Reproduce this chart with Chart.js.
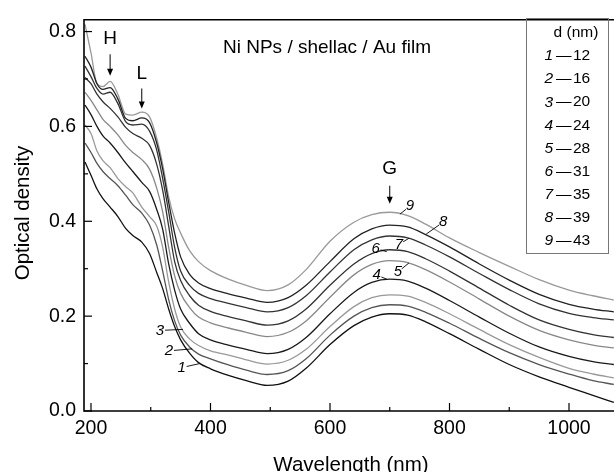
<!DOCTYPE html>
<html lang="en">
  <head>
    <meta charset="UTF-8" />
    <title>Optical density of Ni NPs / shellac / Au film</title>
    <script src="https://cdn.jsdelivr.net/npm/chart.js"></script>
    <style>
      html, body { margin: 0; padding: 0; background: #fff; }
      #wrap { width: 614px; height: 472px; }
    </style>
  </head>
  <body>
    <div id="wrap">
      <canvas id="odChart" width="614" height="472"></canvas>
    </div>

    <script>
      // wavelength grid (nm) shared by all spectra
      const wavelengths = [190, 200, 210, 220, 232, 245, 258, 270, 285, 298, 310, 320, 330, 340, 350, 365, 380, 400,
        430, 460, 495, 530, 560, 600, 640, 670, 700, 730, 760, 800, 850, 900, 950, 1000, 1040, 1075];

      // optical density of each curve
      const od1 = [0.525, 0.497, 0.468, 0.448, 0.430, 0.410, 0.385, 0.370, 0.356, 0.332, 0.292, 0.258, 0.215, 0.178, 0.150, 0.122, 0.102, 0.089,
        0.075, 0.064, 0.054, 0.063, 0.090, 0.140, 0.180, 0.198, 0.205, 0.202, 0.188, 0.163, 0.130, 0.098, 0.072, 0.050, 0.033, 0.018];
      const od2 = [0.565, 0.545, 0.522, 0.505, 0.490, 0.475, 0.455, 0.435, 0.417, 0.392, 0.350, 0.295, 0.235, 0.190, 0.160, 0.135, 0.120, 0.110,
        0.097, 0.086, 0.077, 0.085, 0.110, 0.160, 0.200, 0.218, 0.224, 0.221, 0.208, 0.185, 0.153, 0.123, 0.098, 0.078, 0.064, 0.056];
      const od3 = [0.603, 0.585, 0.548, 0.528, 0.513, 0.490, 0.473, 0.460, 0.430, 0.410, 0.390, 0.345, 0.272, 0.215, 0.177, 0.152, 0.138, 0.127,
        0.118, 0.108, 0.099, 0.107, 0.130, 0.178, 0.220, 0.239, 0.245, 0.242, 0.229, 0.205, 0.172, 0.140, 0.113, 0.090, 0.078, 0.070];
      const od4 = [0.645, 0.625, 0.600, 0.580, 0.565, 0.545, 0.523, 0.505, 0.482, 0.463, 0.425, 0.383, 0.310, 0.255, 0.215, 0.185, 0.163, 0.150,
        0.139, 0.130, 0.121, 0.130, 0.155, 0.205, 0.250, 0.271, 0.278, 0.274, 0.259, 0.233, 0.198, 0.164, 0.135, 0.115, 0.104, 0.098];
      const od5 = [0.672, 0.655, 0.635, 0.615, 0.600, 0.582, 0.560, 0.545, 0.530, 0.510, 0.470, 0.420, 0.345, 0.285, 0.248, 0.218, 0.198, 0.186,
        0.175, 0.166, 0.157, 0.166, 0.190, 0.240, 0.287, 0.309, 0.317, 0.313, 0.298, 0.272, 0.236, 0.200, 0.170, 0.150, 0.139, 0.133];
      const od6 = [0.703, 0.690, 0.668, 0.652, 0.638, 0.620, 0.598, 0.585, 0.575, 0.560, 0.520, 0.465, 0.390, 0.315, 0.275, 0.243, 0.223, 0.210,
        0.199, 0.190, 0.181, 0.190, 0.215, 0.265, 0.310, 0.332, 0.340, 0.336, 0.321, 0.295, 0.259, 0.223, 0.192, 0.172, 0.161, 0.155];
      const od7 = [0.727, 0.705, 0.680, 0.668, 0.672, 0.648, 0.610, 0.603, 0.605, 0.590, 0.550, 0.490, 0.420, 0.345, 0.295, 0.265, 0.248, 0.237,
        0.227, 0.218, 0.209, 0.218, 0.243, 0.293, 0.340, 0.361, 0.369, 0.365, 0.350, 0.325, 0.290, 0.256, 0.226, 0.206, 0.197, 0.192];
      const od8 = [0.748, 0.725, 0.690, 0.678, 0.682, 0.658, 0.617, 0.612, 0.618, 0.608, 0.565, 0.510, 0.440, 0.375, 0.325, 0.288, 0.270, 0.258,
        0.247, 0.238, 0.229, 0.239, 0.265, 0.315, 0.363, 0.384, 0.392, 0.388, 0.372, 0.346, 0.310, 0.276, 0.246, 0.225, 0.215, 0.209];
      const od9 = [0.815, 0.755, 0.690, 0.684, 0.695, 0.668, 0.626, 0.624, 0.630, 0.620, 0.575, 0.520, 0.452, 0.405, 0.375, 0.338, 0.315, 0.296,
        0.278, 0.265, 0.254, 0.266, 0.298, 0.358, 0.398, 0.414, 0.419, 0.412, 0.394, 0.365, 0.334, 0.305, 0.277, 0.255, 0.243, 0.234];

      const spectra = [od1, od2, od3, od4, od5, od6, od7, od8, od9];
      const curveNames = ["1", "2", "3", "4", "5", "6", "7", "8", "9"];
      const diameters = [12, 16, 20, 24, 28, 31, 35, 39, 43];
      const lineColors = ["#111", "#555", "#999", "#1a1a1a", "#888", "#333", "#333", "#222", "#999"];

      // where each curve number points at (nm, OD) and where its text sits (px offset)
      const labelAnchors = [[382, 0.100], [369, 0.131], [354, 0.172], [695, 0.278], [732, 0.312],
        [695, 0.336], [732, 0.364], [761, 0.373], [717, 0.415]];
      const labelOffsets = [[-18, 4], [-23, 2], [-23, 1], [-10, -4], [-11, 9], [-11, -3], [-10, 6], [17, -12], [10, -8]];

      // band markers H, L, G: [nm, arrow top OD, arrow tip OD, text OD]
      const bandNames = ["H", "L", "G"];
      const bandMarks = [[232, 0.752, 0.707, 0.785], [285, 0.680, 0.638, 0.710], [700, 0.475, 0.437, 0.511]];

      const FONT = "'Liberation Sans', Arial, sans-serif";

      const datasets = spectra.map((vals, i) => ({
        label: curveNames[i],
        data: wavelengths.map((w, k) => ({ x: w, y: vals[k] })),
        borderColor: lineColors[i],
        borderWidth: 1.3,
        pointRadius: 0,
        cubicInterpolationMode: "monotone",
        fill: false,
      }));

      function arrowDown(ctx, x, y1, y2) {
        ctx.beginPath();
        ctx.moveTo(x, y1);
        ctx.lineTo(x, y2 - 6);
        ctx.stroke();
        ctx.beginPath();
        ctx.moveTo(x - 3, y2 - 7);
        ctx.lineTo(x + 3, y2 - 7);
        ctx.lineTo(x, y2);
        ctx.closePath();
        ctx.fill();
      }

      const decorations = {
        id: "decorations",
        afterDraw(chart) {
          const ctx = chart.ctx;
          const xs = chart.scales.x;
          const ys = chart.scales.y;
          const area = chart.chartArea;
          ctx.save();
          ctx.strokeStyle = "#000";
          ctx.fillStyle = "#000";

          // frame: left, bottom, top
          ctx.lineWidth = 1.6;
          ctx.beginPath();
          ctx.moveTo(area.right, area.top);
          ctx.lineTo(area.left, area.top);
          ctx.lineTo(area.left, area.bottom);
          ctx.lineTo(area.right, area.bottom);
          ctx.stroke();

          // inward ticks
          ctx.lineWidth = 1.2;
          xs.ticks.forEach((t) => {
            const px = xs.getPixelForValue(t.value);
            const len = t.value % 200 === 0 ? 8 : 4;
            ctx.beginPath();
            ctx.moveTo(px, area.bottom);
            ctx.lineTo(px, area.bottom - len);
            ctx.stroke();
          });
          ys.ticks.forEach((t) => {
            const py = ys.getPixelForValue(t.value);
            const len = Math.round(t.value * 10) % 2 === 0 ? 8 : 4;
            ctx.beginPath();
            ctx.moveTo(area.left, py);
            ctx.lineTo(area.left + len, py);
            ctx.stroke();
          });

          // axis titles
          ctx.font = "20.5px " + FONT;
          ctx.textAlign = "center";
          ctx.textBaseline = "alphabetic";
          ctx.fillText("Wavelength (nm)", 351, 471);
          ctx.save();
          ctx.translate(29, 213);
          ctx.rotate(-Math.PI / 2);
          ctx.fillText("Optical density", 0, 0);
          ctx.restore();

          // sample description
          ctx.font = "19px " + FONT;
          ctx.textAlign = "left";
          ctx.fillText("Ni NPs / shellac / Au film", 223, 53);

          // band markers
          ctx.lineWidth = 1;
          ctx.font = "19px " + FONT;
          ctx.textAlign = "center";
          ctx.textBaseline = "middle";
          bandMarks.forEach((m, i) => {
            const px = xs.getPixelForValue(m[0]);
            ctx.fillText(bandNames[i], px, ys.getPixelForValue(m[3]));
            arrowDown(ctx, px, ys.getPixelForValue(m[1]), ys.getPixelForValue(m[2]));
          });

          // curve numbers with leaders
          ctx.font = "italic 15px " + FONT;
          ctx.lineWidth = 0.9;
          labelAnchors.forEach((a, i) => {
            const ax = xs.getPixelForValue(a[0]);
            const ay = ys.getPixelForValue(a[1]);
            const tx = ax + labelOffsets[i][0];
            const ty = ay + labelOffsets[i][1];
            const dx = ax - tx, dy = ay - ty;
            const d = Math.hypot(dx, dy);
            ctx.beginPath();
            ctx.moveTo(tx + (dx / d) * 5, ty + (dy / d) * 5);
            ctx.lineTo(ax, ay);
            ctx.stroke();
            ctx.fillText(curveNames[i], tx, ty);
          });

          // legend box
          ctx.strokeStyle = "#777";
          ctx.lineWidth = 1;
          ctx.strokeRect(526.5, 18.5, 82, 235);
          ctx.font = "15.5px " + FONT;
          ctx.textAlign = "center";
          ctx.fillText("d (nm)", 576, 33);
          diameters.forEach((d, i) => {
            const y = 56 + i * 23.1;
            ctx.textAlign = "right";
            ctx.font = "italic 15.5px " + FONT;
            ctx.fillText(curveNames[i], 553, y);
            ctx.textAlign = "left";
            ctx.font = "15.5px " + FONT;
            ctx.fillText("\u2014", 556, y);
            ctx.fillText(String(d), 573, y);
          });
          ctx.restore();
        },
      };

      const ctx = document.getElementById("odChart").getContext("2d");
      const odChart = new Chart(ctx, {
        type: "line",
        data: { datasets: datasets },
        options: {
          responsive: false,
          animation: false,
          devicePixelRatio: 1,
          layout: { padding: { top: 13, right: 0, left: 0, bottom: 0 } },
          plugins: { legend: { display: false }, tooltip: { enabled: false } },
          scales: {
            x: {
              type: "linear",
              min: 188.3,
              max: 1075.3,
              afterFit: (s) => { s.height = 61; },
              grid: { display: false, drawTicks: false },
              border: { display: false },
              ticks: {
                stepSize: 100,
                includeBounds: false,
                autoSkip: false,
                maxRotation: 0,
                padding: 6,
                color: "#000",
                font: { family: FONT, size: 19.5 },
                callback: (v) => (v % 200 === 0 ? String(v) : ""),
              },
            },
            y: {
              type: "linear",
              min: 0,
              max: 0.825,
              afterFit: (s) => { s.width = 84; },
              grid: { display: false, drawTicks: false },
              border: { display: false },
              ticks: {
                stepSize: 0.1,
                includeBounds: false,
                autoSkip: false,
                padding: 8,
                color: "#000",
                font: { family: FONT, size: 19.5 },
                callback: (v) => (Math.round(v * 10) % 2 === 0 ? v.toFixed(1) : ""),
              },
            },
          },
        },
        plugins: [decorations],
      });
    </script>
  </body>
</html>
